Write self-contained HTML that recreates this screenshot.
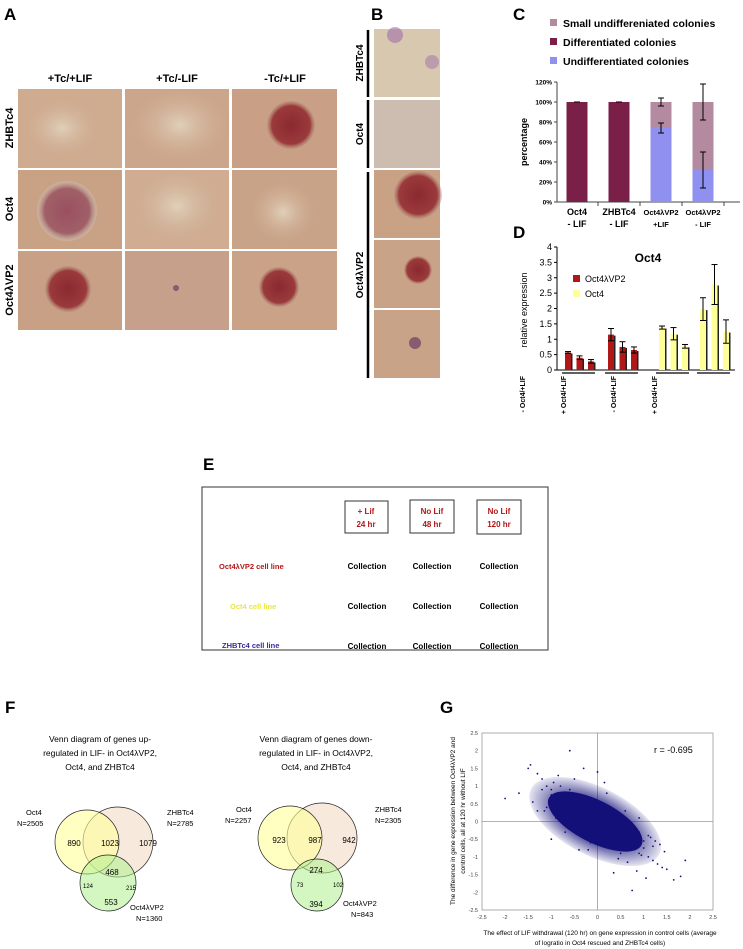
<!DOCTYPE html>
<html><head><meta charset="utf-8"><style>
body{margin:0;background:#fff;width:743px;height:949px;overflow:hidden;font-family:"Liberation Sans","Noto Sans CJK SC",sans-serif}
svg{display:block}
</style></head><body>
<svg id="fig" width="743" height="949" viewBox="0 0 743 949" font-family="Liberation Sans, sans-serif">
<defs>
<radialGradient id="col" cx="50%" cy="50%" r="50%"><stop offset="0" stop-color="#8a2a30"/><stop offset="0.8" stop-color="#9a3a3c"/><stop offset="1" stop-color="#b08070" stop-opacity="0.3"/></radialGradient>
<radialGradient id="colg" cx="50%" cy="50%" r="50%"><stop offset="0" stop-color="#9a5060"/><stop offset="0.75" stop-color="#a06068"/><stop offset="1" stop-color="#d0c0b0" stop-opacity="0.5"/></radialGradient>
<radialGradient id="colpale" cx="50%" cy="50%" r="50%"><stop offset="0" stop-color="#e0d0b8"/><stop offset="1" stop-color="#cfb098" stop-opacity="0"/></radialGradient>
<radialGradient id="blob" cx="50%" cy="50%" r="50%"><stop offset="0" stop-color="#14107a"/><stop offset="0.6" stop-color="#14107a"/><stop offset="1" stop-color="#14107a" stop-opacity="0.15"/></radialGradient>
</defs>

<g>
<text x="4" y="20" font-size="17" font-weight="bold">A</text>
<g font-size="11" font-weight="bold" text-anchor="middle">
<text x="70" y="82">+Tc/+LIF</text>
<text x="177" y="82">+Tc/-LIF</text>
<text x="285" y="82">-Tc/+LIF</text>
<text transform="translate(13,128) rotate(-90)">ZHBTc4</text>
<text transform="translate(13,209) rotate(-90)">Oct4</text>
<text transform="translate(13,290) rotate(-90)">Oct4λVP2</text>
</g>
<g>
<rect x="18" y="89" width="104" height="79" fill="#cfab90"/>
<ellipse cx="62" cy="128" rx="38" ry="30" fill="url(#colpale)"/>
<rect x="125" y="89" width="104" height="79" fill="#cca68c"/>
<ellipse cx="180" cy="125" rx="48" ry="36" fill="url(#colpale)"/>
<rect x="232" y="89" width="105" height="79" fill="#c9a085"/>
<circle cx="291" cy="125" r="24" fill="url(#col)"/>
<rect x="18" y="170" width="104" height="79" fill="#c9a286"/>
<circle cx="67" cy="211" r="30" fill="url(#colg)"/>
<rect x="125" y="170" width="104" height="79" fill="#cfac92"/>
<ellipse cx="177" cy="206" rx="45" ry="38" fill="url(#colpale)"/>
<rect x="232" y="170" width="105" height="79" fill="#c9a388"/>
<ellipse cx="283" cy="212" rx="32" ry="30" fill="url(#colpale)"/>
<rect x="18" y="251" width="104" height="79" fill="#c8a086"/>
<circle cx="68" cy="289" r="23" fill="url(#col)"/>
<rect x="125" y="251" width="104" height="79" fill="#c6a08a"/>
<circle cx="176" cy="288" r="3" fill="#806070"/>
<rect x="232" y="251" width="105" height="79" fill="#c9a288"/>
<circle cx="279" cy="287" r="20" fill="url(#col)"/>
</g>
</g>

<g>
<text x="371" y="20" font-size="17" font-weight="bold">B</text>
<rect x="374" y="29" width="66" height="68" fill="#d8c8b0"/>
<circle cx="395" cy="35" r="8" fill="#a070a8" opacity="0.6"/>
<circle cx="432" cy="62" r="7" fill="#a070a8" opacity="0.5"/>
<rect x="374" y="100" width="66" height="68" fill="#cdbcb0"/>
<rect x="374" y="170" width="66" height="68" fill="#c9a286"/>
<circle cx="418" cy="195" r="24" fill="url(#col)"/>
<rect x="374" y="240" width="66" height="68" fill="#c9a388"/>
<circle cx="418" cy="270" r="14" fill="url(#col)"/>
<rect x="374" y="310" width="66" height="68" fill="#c9a388"/>
<circle cx="415" cy="343" r="6" fill="#8a5a70"/>
<g stroke="#000" stroke-width="2.5">
<line x1="368" y1="30" x2="368" y2="97"/><line x1="368" y1="100" x2="368" y2="168"/><line x1="368" y1="172" x2="368" y2="378"/>
</g>
<g font-size="10" font-weight="bold" text-anchor="middle">
<text transform="translate(363,63) rotate(-90)">ZHBTc4</text>
<text transform="translate(363,134) rotate(-90)">Oct4</text>
<text transform="translate(363,275) rotate(-90)">Oct4λVP2</text>
</g>
</g>

<g id="panelC">
<text x="513" y="20" font-size="17" font-weight="bold">C</text>
<g font-size="10.5" font-weight="bold">
<rect x="550" y="19" width="7" height="7" fill="#b48aa0"/><text x="563" y="27">Small undiffereniated colonies</text>
<rect x="550" y="38" width="7" height="7" fill="#7a1f48"/><text x="563" y="46">Differentiated colonies</text>
<rect x="550" y="57" width="7" height="7" fill="#9090f0"/><text x="563" y="65">Undifferentiated colonies</text>
</g>
</g>

<g id="panelD">
<text x="513" y="238" font-size="17" font-weight="bold">D</text>
<text x="648" y="262" font-size="12" font-weight="bold" text-anchor="middle">Oct4</text>
<rect x="573" y="275" width="7" height="7" fill="#b01818"/><text x="585" y="282" font-size="9">Oct4λVP2</text>
<rect x="573" y="290" width="7" height="7" fill="#ffff99"/><text x="585" y="297" font-size="9">Oct4</text>
<text transform="translate(527,310) rotate(-90)" font-size="9" text-anchor="middle">relative expression</text>
</g>

<g>
<text x="203" y="470" font-size="17" font-weight="bold">E</text>
<rect x="202" y="487" width="346" height="163" fill="#fff" stroke="#333" stroke-width="1"/>
<g fill="none" stroke="#333"><rect x="345" y="501" width="43" height="32"/><rect x="410" y="500" width="44" height="33"/><rect x="477" y="500" width="44" height="34"/></g>
<g font-size="8" font-weight="bold" fill="#b01818" text-anchor="middle">
<text x="366" y="514">+ Lif</text><text x="366" y="527">24 hr</text>
<text x="432" y="514">No Lif</text><text x="432" y="527">48 hr</text>
<text x="499" y="514">No Lif</text><text x="499" y="527">120 hr</text>
</g>
<g font-size="7.5" font-weight="bold">
<text x="219" y="569" fill="#b01818">Oct4λVP2 cell line</text>
<text x="230" y="609" fill="#e8e840">Oct4 cell line</text>
<text x="222" y="648" fill="#3a2a9a">ZHBTc4 cell line</text>
</g>
<g font-size="8" font-weight="bold" text-anchor="middle">
<text x="367" y="569">Collection</text><text x="432" y="569">Collection</text><text x="499" y="569">Collection</text>
<text x="367" y="609">Collection</text><text x="432" y="609">Collection</text><text x="499" y="609">Collection</text>
<text x="367" y="649">Collection</text><text x="432" y="649">Collection</text><text x="499" y="649">Collection</text>
</g>
</g>

<g>
<text x="5" y="713" font-size="17" font-weight="bold">F</text>
<g font-size="8.5" text-anchor="middle">
<text x="100" y="742">Venn diagram of genes up-</text><text x="100" y="756">regulated in LIF- in Oct4λVP2,</text><text x="100" y="770">Oct4, and ZHBTc4</text>
<text x="316" y="742">Venn diagram of genes down-</text><text x="316" y="756">regulated in LIF- in Oct4λVP2,</text><text x="316" y="770">Oct4, and ZHBTc4</text>
</g>
<g stroke="#222" stroke-width="0.7">
<circle cx="118" cy="842" r="35" fill="#f6e8d8" fill-opacity="0.9"/>
<circle cx="87" cy="842" r="32" fill="#ffff99" fill-opacity="0.6"/>
<circle cx="108" cy="883" r="28" fill="#b0f090" fill-opacity="0.55"/>
</g>
<g stroke="#222" stroke-width="0.7">
<circle cx="322" cy="838" r="35" fill="#f6e8d8" fill-opacity="0.9"/>
<circle cx="290" cy="838" r="32" fill="#ffff99" fill-opacity="0.6"/>
<circle cx="317" cy="885" r="26" fill="#b0f090" fill-opacity="0.55"/>
</g>
<g font-size="7.5">
<text x="26" y="815">Oct4</text><text x="17" y="826">N=2505</text>
<text x="167" y="815">ZHBTc4</text><text x="167" y="826">N=2785</text>
<text x="130" y="910">Oct4λVP2</text><text x="136" y="921">N=1360</text>
<text x="236" y="812">Oct4</text><text x="225" y="823">N=2257</text>
<text x="375" y="812">ZHBTc4</text><text x="375" y="823">N=2305</text>
<text x="343" y="906">Oct4λVP2</text><text x="351" y="917">N=843</text>
</g>
<g font-size="8" text-anchor="middle">
<text x="74" y="846">890</text><text x="110" y="846">1023</text><text x="148" y="846">1079</text>
<text x="112" y="875">468</text><text x="88" y="888" font-size="6">124</text><text x="131" y="890" font-size="6">215</text><text x="111" y="905">553</text>
<text x="279" y="843">923</text><text x="315" y="843">987</text><text x="349" y="843">942</text>
<text x="316" y="873">274</text><text x="300" y="887" font-size="6">73</text><text x="338" y="887" font-size="6">102</text><text x="316" y="907">394</text>
</g>
</g>

<g id="panelG">
<text x="440" y="713" font-size="17" font-weight="bold">G</text>
<rect x="482" y="733" width="231" height="177" fill="none" stroke="#999" stroke-width="0.8"/>
<text x="654" y="753" font-size="9">r = -0.695</text>
<text transform="translate(455,821) rotate(-90)" font-size="6.5" text-anchor="middle">The difference in gene expression between Oct4λVP2 and</text>
<text transform="translate(465,821) rotate(-90)" font-size="6.5" text-anchor="middle">control cells, all at 120 hr without LIF</text>
<text x="600" y="935" font-size="6.5" text-anchor="middle">The effect of LIF withdrawal (120 hr) on gene expression in control cells (average</text>
<text x="600" y="945" font-size="6.5" text-anchor="middle">of logratio in Oct4 rescued and ZHBTc4 cells)</text>
</g>
</svg>
<script>
const NS="http://www.w3.org/2000/svg";
function mk(parent,tag,attrs){const e=document.createElementNS(NS,tag);for(const k in attrs)e.setAttribute(k,attrs[k]);parent.appendChild(e);return e;}
function txt(parent,x,y,s,size,anchor,extra){const t=mk(parent,'text',Object.assign({x:x,y:y,'font-size':size,'text-anchor':anchor||'start'},extra||{}));t.textContent=s;return t;}

const cCategories=["Oct4|- LIF","ZHBTc4|- LIF","Oct4λVP2|+LIF","Oct4λVP2|- LIF"];
const cUndiff=[0,0,74,32];
const cDiff=[100,100,0,0];
const cSmall=[0,0,26,68];
const cErrUndiff=[0,0,5,18];
const cErrTop=[0,0,4,18];
const cTicks=[0,20,40,60,80,100,120];

const dGroups=["- Oct4/+LIF","+ Oct4/+LIF","- Oct4/+LIF","+ Oct4/+LIF"];
const dSeriesOfGroup=["Oct4λVP2","Oct4λVP2","Oct4","Oct4"];
const dValues=[[0.57,0.40,0.28],[1.15,0.75,0.65],[1.38,1.18,0.77],[1.98,2.78,1.25]];
const dErrors=[[0.03,0.06,0.06],[0.20,0.17,0.10],[0.05,0.20,0.06],[0.37,0.65,0.38]];
const dTicks=["0","0.5","1","1.5","2","2.5","3","3.5","4"];

const gTicks=["-2.5","-2","-1.5","-1","-0.5","0","0.5","1","1.5","2","2.5"];
const gX=[-2.0,-1.7,-1.5,-1.45,-1.3,-1.2,-1.1,-1.0,-0.95,-0.9,-0.85,-0.8,-0.75,-0.7,-0.65,-0.6,-0.55,-0.5,-0.45,-0.4,-0.35,-0.3,-0.25,-0.2,-0.15,-0.1,-0.05,0,0.05,0.1,0.15,0.2,0.25,0.3,0.35,0.4,0.45,0.5,0.55,0.6,0.65,0.7,0.75,0.8,0.9,1.0,1.1,1.2,1.3,1.4,1.5,1.65,1.8,1.9,-1.3,-1.1,-0.9,-0.6,-0.4,-0.15,0.1,0.3,0.5,0.7,0.9,1.1,-0.85,-0.5,-0.3,0.0,0.2,0.45,0.65,0.85,1.05,-0.2,0.6,0.9,-0.7,-1.0,-0.4,0.35,0.75,1.25,-0.6,0.15,-1.2,-1.0,-0.8,-0.6,-0.4,-0.2,0.0,0.2,0.4,0.6,0.8,1.0,1.2,-1.4,-1.15,-0.95,-0.75,-0.55,1.15,1.35,1.45,0.95,0.55,-0.1];
const gY=[0.65,0.8,1.5,1.6,1.35,1.2,1.0,0.9,1.1,0.7,0.8,1.0,0.6,0.55,0.8,0.5,0.45,0.6,0.3,0.5,0.25,0.35,0.1,0.3,0.0,0.2,-0.05,0.1,-0.1,0.0,-0.2,-0.15,-0.3,-0.2,-0.4,-0.3,-0.5,-0.35,-0.6,-0.45,-0.7,-0.5,-0.8,-0.6,-0.9,-0.75,-1.0,-1.1,-1.2,-1.3,-1.35,-1.65,-1.55,-1.1,0.3,0.4,0.1,0.9,0.0,-0.6,0.45,0.2,-0.9,-0.2,-0.3,-0.4,1.3,1.2,1.5,1.4,0.8,-1.05,-1.15,-1.4,-1.6,-0.8,0.3,0.1,-0.3,-0.5,-0.8,-1.45,-1.95,-0.55,2.0,1.1,0.9,0.75,0.6,0.35,0.5,0.4,0.2,0.15,-0.05,-0.25,-0.4,-0.55,-0.7,0.55,0.3,0.2,0.05,-0.1,-0.45,-0.65,-0.85,-0.95,-0.75,-0.55];

(function(){
 const g=document.getElementById('panelC');
 const x0=557,x1=740,yb=202,yt=82;
 const y=v=>yb-(v/120)*(yb-yt);
 const xc=i=>577+i*42;
 const bw=21;
 mk(g,'line',{x1:x0,y1:yt,x2:x0,y2:yb,stroke:'#444','stroke-width':1});
 mk(g,'line',{x1:x0,y1:yb,x2:x1,y2:yb,stroke:'#444','stroke-width':1});
 cTicks.forEach(t=>{mk(g,'line',{x1:x0-3,y1:y(t),x2:x0,y2:y(t),stroke:'#444'});
  txt(g,x0-5,y(t)+2.5,t+'%',6.5,'end',{'font-weight':'bold'});});
 const ytl=txt(g,0,0,'percentage',9,'middle',{'font-weight':'bold',transform:'translate(527,142) rotate(-90)'});
 
 
 cCategories.forEach((c,i)=>{
  const cx=xc(i);
  let base=0;
  [[cUndiff,'#9090f0','undiff'],[cDiff,'#7a1f48','diff'],[cSmall,'#b48aa0','small']].forEach(([arr,col,nm])=>{
   const v=arr[i]; if(v<=0)return;
   const r=mk(g,'rect',{x:cx-bw/2,y:y(base+v),width:bw,height:y(base)-y(base+v),fill:col});
   
   
   base+=v;});
  const err=(v,e)=>{if(e<=0){mk(g,'line',{x1:cx-3,x2:cx+3,y1:y(v),y2:y(v),stroke:'#000'});return;}
   mk(g,'line',{x1:cx,x2:cx,y1:y(v+e),y2:y(v-e),stroke:'#000'});
   mk(g,'line',{x1:cx-3,x2:cx+3,y1:y(v+e),y2:y(v+e),stroke:'#000'});
   mk(g,'line',{x1:cx-3,x2:cx+3,y1:y(v-e),y2:y(v-e),stroke:'#000'});};
  err(100,cErrTop[i]);
  if(cUndiff[i]>0)err(cUndiff[i],cErrUndiff[i]);
  mk(g,'line',{x1:cx+21,x2:cx+21,y1:yb,y2:yb+4,stroke:'#444'});
  const p=c.split('|');
  const l=txt(g,cx,yb+13,p[0],i<2?9:7.5,'middle',{'font-weight':'bold'});
  
  
  txt(g,cx,yb+25,p[1],i<2?9:7.5,'middle',{'font-weight':'bold'});
 });
})();

(function(){
 const g=document.getElementById('panelD');
 const x0=557,yb=370,yt=247;
 const y=v=>yb-(v/4)*(yb-yt);
 const gx=[565,608,659,700];
 const step=11.5,bw=6;
 mk(g,'line',{x1:x0,y1:yt,x2:x0,y2:yb,stroke:'#000'});
 mk(g,'line',{x1:x0,y1:yb,x2:735,y2:yb,stroke:'#000'});
 dTicks.forEach((t,i)=>{const v=parseFloat(t);mk(g,'line',{x1:x0-3,y1:y(v),x2:x0,y2:y(v),stroke:'#000'});
  txt(g,x0-5,y(v)+3,t,9,'end');});
 dGroups.forEach((gn,gi)=>{
  const col=dSeriesOfGroup[gi]==='Oct4'?'#ffff99':'#b01818';
  dValues[gi].forEach((v,j)=>{
   const cx=gx[gi]+j*step;
   mk(g,'rect',{x:cx+1.5,y:y(v)+1,width:bw,height:yb-y(v)-1,fill:'#222'});
   const r=mk(g,'rect',{x:cx,y:y(v),width:bw,height:yb-y(v),fill:col});
   
   
   const e=dErrors[gi][j],ex=cx+bw/2;
   mk(g,'line',{x1:ex,x2:ex,y1:y(v+e),y2:y(v-e),stroke:'#000'});
   mk(g,'line',{x1:ex-3,x2:ex+3,y1:y(v+e),y2:y(v+e),stroke:'#000'});
   mk(g,'line',{x1:ex-3,x2:ex+3,y1:y(v-e),y2:y(v-e),stroke:'#000'});
  });
  mk(g,'line',{x1:gx[gi]-3,x2:gx[gi]+30,y1:yb+3,y2:yb+3,stroke:'#000','stroke-width':1.2});
  const lx=[519,560,610,651][gi];
  const l=txt(g,0,0,gn,7,'end',{'font-weight':'bold',transform:'translate('+(lx+6)+','+(yb+6)+') rotate(-90)'});
  
  
 });
})();

(function(){
 const g=document.getElementById('panelG');
 const X0=482,X1=713,Y0=733,Y1=910;
 const sx=v=>X0+(v+2.5)/5*(X1-X0);
 const sy=v=>Y1-(v+2.5)/5*(Y1-Y0);
 mk(g,'line',{x1:sx(0),x2:sx(0),y1:Y0,y2:Y1,stroke:'#999','stroke-width':0.8});
 mk(g,'line',{x1:X0,x2:X1,y1:sy(0),y2:sy(0),stroke:'#999','stroke-width':0.8});
 gTicks.forEach(t=>{const v=parseFloat(t);
  txt(g,sx(v),Y1+9,t,5.5,'middle',{fill:'#444'});
  txt(g,X0-4,sy(v)+2,t,5.5,'end',{fill:'#444'});});
 const cx=sx(-0.05),cy=sy(0.0);
 const outer=mk(g,'ellipse',{cx:cx,cy:cy,rx:72,ry:34,fill:'url(#blob)',opacity:0.7,transform:'rotate(27 '+cx+' '+cy+')'});
 
 
 const core=mk(g,'ellipse',{cx:cx,cy:cy,rx:52,ry:21,fill:'#14107a',transform:'rotate(27 '+cx+' '+cy+')'});
 
 
 gX.forEach((xv,i)=>{
  const p=mk(g,'circle',{cx:sx(xv),cy:sy(gY[i]),r:0.9,fill:'#14107a'});
  
  
 });
})();
</script>
</body></html>
